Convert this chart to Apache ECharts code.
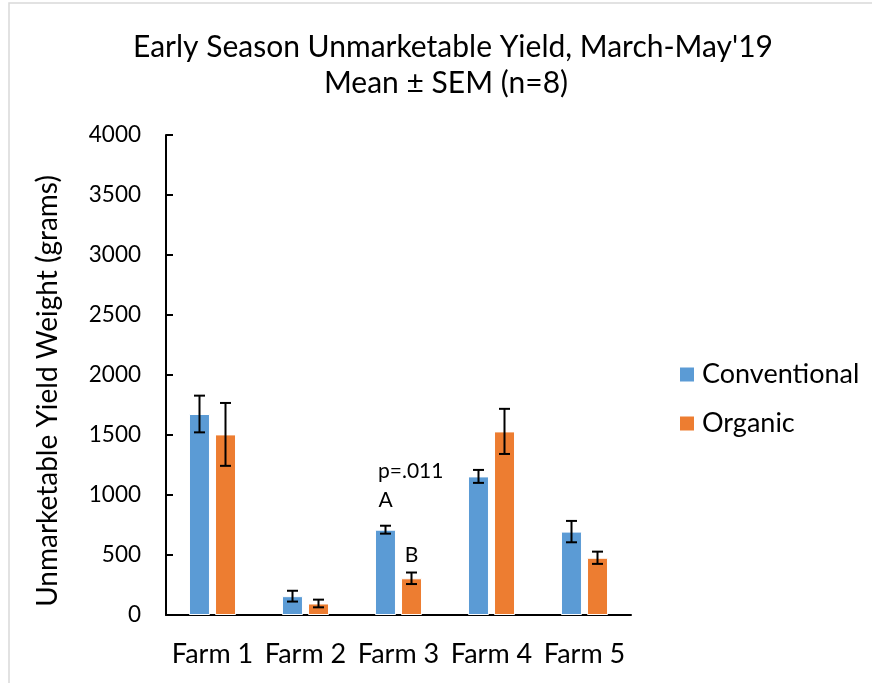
<!DOCTYPE html>
<html>
<head>
<meta charset="utf-8">
<script src="https://cdn.jsdelivr.net/npm/echarts@6/dist/echarts.min.js"></script>
<style>
  html, body { margin: 0; padding: 0; background: #fff; }
  #chart { width: 872px; height: 683px; }
</style>
</head>
<body>
<div id="chart"></div>
<script>
// 数据
const farms = ['Farm 1', 'Farm 2', 'Farm 3', 'Farm 4', 'Farm 5'];
const conventional = [1675, 157, 711, 1155, 695];
const conventionalSem = [153, 45, 33, 54, 89];
const organic = [1505, 96, 306, 1530, 477];
const organicSem = [262, 32, 48, 188, 51];
const yTicks = [0, 4000, 500]; // min, max, interval

// 标注文字 (farm index, series index, y value, text)
const noteFarm = [2, 2, 2];
const noteSeries = [-1, 0, 1];
const noteY = [1202, 953, 494];
const noteText = ['p=.011', 'A', 'B'];

const font = 'Lato, "Open Sans", sans-serif';
const barW = 21;
const half = 13; // offset of each bar from category center

const chart = echarts.init(document.getElementById('chart'));

function errorSeries(vals, sems, dir) {
  return {
    type: 'custom',
    z: 5,
    silent: true,
    data: vals.map((v, i) => [i, v - sems[i], v + sems[i]]),
    renderItem(params, api) {
      const lo = api.coord([api.value(0), api.value(1)]);
      const hi = api.coord([api.value(0), api.value(2)]);
      const x = lo[0] + dir * half;
      const cap = 5.5;
      const style = { stroke: '#000', lineWidth: 2 };
      return {
        type: 'group',
        children: [
          { type: 'line', shape: { x1: x, y1: lo[1], x2: x, y2: hi[1] }, style },
          { type: 'line', shape: { x1: x - cap, y1: lo[1], x2: x + cap, y2: lo[1] }, style },
          { type: 'line', shape: { x1: x - cap, y1: hi[1], x2: x + cap, y2: hi[1] }, style }
        ]
      };
    }
  };
}

const titleStyle = { fontFamily: font, fontSize: 30, fontWeight: 'normal', color: '#000' };

const option = {
  animation: false,
  backgroundColor: '#fff',
  title: [
    { text: "Early Season Unmarketable Yield, March-May'19", left: 453, top: 32, textAlign: 'center', padding: 0, textStyle: titleStyle },
    { text: 'Mean ± SEM (n=8)', left: 446, top: 68, textAlign: 'center', padding: 0, textStyle: titleStyle }
  ],
  legend: {
    orient: 'vertical',
    left: 673,
    top: 356,
    itemWidth: 16,
    itemHeight: 16,
    itemGap: 22,
    icon: 'rect',
    data: ['Conventional', 'Organic'],
    textStyle: { fontFamily: font, fontSize: 27, color: '#000', padding: [0, 0, 0, 2] }
  },
  grid: { left: 166, right: 241, top: 135, bottom: 68 },
  xAxis: {
    type: 'category',
    data: farms,
    axisLine: { lineStyle: { color: '#000', width: 2 } },
    axisTick: { show: false },
    axisLabel: { color: '#000', fontFamily: font, fontSize: 27, margin: 26, interval: 0, hideOverlap: false }
  },
  yAxis: {
    type: 'value',
    min: yTicks[0],
    max: yTicks[1],
    interval: yTicks[2],
    splitLine: { show: false },
    axisLine: { show: true, lineStyle: { color: '#000', width: 2 } },
    axisTick: { show: true, inside: true, length: 7, lineStyle: { color: '#000', width: 2 } },
    axisLabel: { color: '#000', fontFamily: font, fontSize: 22.5, margin: 25, formatter: v => String(v) }
  },
  graphic: [
    {
      type: 'rect',
      silent: true,
      shape: { x: 9, y: 3, width: 900, height: 720 },
      style: { fill: 'none', stroke: '#d9d9d9', lineWidth: 1.5 }
    },
    {
      type: 'text',
      x: 48,
      y: 391,
      rotation: Math.PI / 2,
      style: {
        text: 'Unmarketable Yield Weight (grams)',
        fontFamily: font,
        fontSize: 28,
        fill: '#000',
        textAlign: 'center',
        textVerticalAlign: 'middle'
      }
    }
  ],
  series: [
    {
      name: 'Conventional',
      type: 'bar',
      data: conventional,
      barWidth: barW,
      barGap: '24%',
      itemStyle: { color: '#5B9BD5', borderColor: '#fff', borderWidth: 1 }
    },
    {
      name: 'Organic',
      type: 'bar',
      data: organic,
      barWidth: barW,
      itemStyle: { color: '#ED7D31', borderColor: '#fff', borderWidth: 1 }
    },
    errorSeries(conventional, conventionalSem, -1),
    errorSeries(organic, organicSem, 1),
    {
      type: 'custom',
      z: 6,
      silent: true,
      data: noteText.map((t, i) => [noteFarm[i], noteY[i], noteSeries[i]]),
      renderItem(params, api) {
        const p = api.coord([api.value(0), api.value(1)]);
        const s = api.value(2);
        const i = params.dataIndex;
        let x, align;
        if (s < 0) { x = p[0] - half - barW / 2 + 3; align = 'left'; }
        else { x = p[0] + (s === 0 ? -half : half); align = 'center'; }
        return {
          type: 'text',
          x: x,
          y: p[1],
          style: {
            text: noteText[i],
            fontFamily: font,
            fontSize: 21,
            fill: '#000',
            textAlign: align,
            textVerticalAlign: 'middle'
          }
        };
      }
    }
  ]
};

chart.setOption(option);
</script>
</body>
</html>
